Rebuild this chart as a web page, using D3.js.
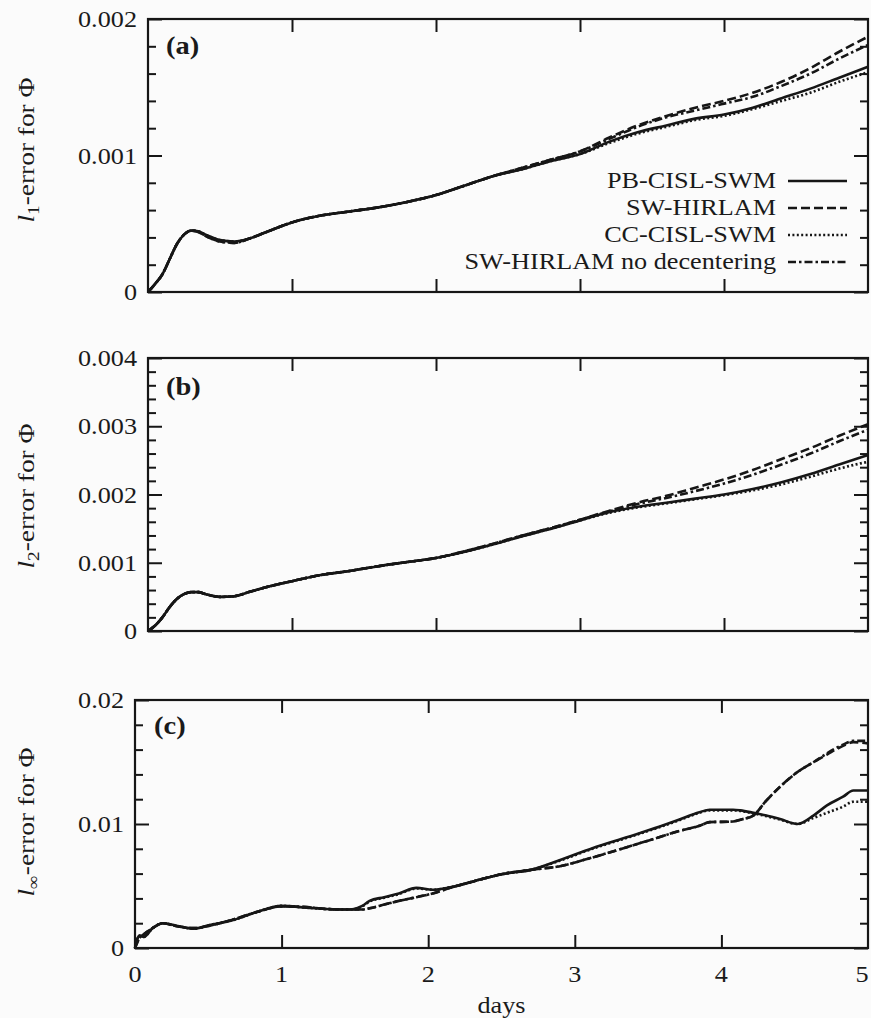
<!DOCTYPE html>
<html><head><meta charset="utf-8">
<script src="https://cdn.jsdelivr.net/npm/d3@7/dist/d3.min.js"></script>
<style>
html,body{margin:0;padding:0;background:#fbfbfb;}
svg{display:block;}
text{font-family:"Liberation Serif","Times New Roman","DejaVu Serif",serif;fill:#1a1a1a;}
</style></head><body>
<svg id="chart" width="871" height="1018"></svg>
<script>
// ---------- DATA ----------
const seriesNames = ["PB-CISL-SWM", "SW-HIRLAM", "CC-CISL-SWM", "SW-HIRLAM no decentering"];
const xTickValues = [0, 1, 2, 3, 4, 5];
const xTickLabels = ["0", "1", "2", "3", "4", "5"];
const xLabel = "days";

// panel (a): l1-error, values in units of 1e-3
const daysAB = [0,0.05,0.1,0.15,0.2,0.25,0.3,0.35,0.4,0.5,0.6,0.7,0.8,1.0,1.2,1.4,1.6,1.8,2.0,2.2,2.4,2.6,2.8,3.0,3.2,3.4,3.6,3.8,4.0,4.2,4.4,4.6,4.8,5.0];
const aPB   = [0,0.06,0.13,0.24,0.35,0.42,0.45,0.445,0.42,0.38,0.37,0.39,0.43,0.51,0.56,0.59,0.62,0.66,0.71,0.78,0.85,0.90,0.96,1.01,1.10,1.17,1.22,1.27,1.30,1.35,1.42,1.49,1.57,1.65];
const aSW   = [0,0.06,0.13,0.24,0.35,0.42,0.45,0.44,0.41,0.37,0.36,0.39,0.43,0.51,0.56,0.59,0.62,0.66,0.71,0.78,0.85,0.91,0.97,1.03,1.13,1.22,1.29,1.35,1.40,1.46,1.54,1.64,1.76,1.87];
const aCC   = [0,0.06,0.13,0.24,0.35,0.42,0.45,0.445,0.42,0.38,0.37,0.39,0.43,0.51,0.56,0.59,0.62,0.66,0.71,0.78,0.85,0.90,0.96,1.01,1.09,1.16,1.21,1.26,1.29,1.34,1.40,1.46,1.54,1.61];
const aSWnd = [0,0.06,0.13,0.24,0.35,0.42,0.45,0.44,0.41,0.37,0.36,0.39,0.43,0.51,0.56,0.59,0.62,0.66,0.71,0.78,0.85,0.91,0.97,1.03,1.12,1.21,1.28,1.33,1.38,1.43,1.51,1.60,1.71,1.81];

// panel (b): l2-error, values in units of 1e-3
const bPB   = [0,0.08,0.20,0.35,0.47,0.54,0.57,0.57,0.54,0.50,0.51,0.57,0.63,0.73,0.82,0.88,0.95,1.01,1.07,1.16,1.27,1.39,1.50,1.62,1.74,1.82,1.88,1.94,2.00,2.08,2.18,2.30,2.44,2.58];
const bSW   = [0,0.08,0.20,0.35,0.47,0.54,0.57,0.57,0.54,0.50,0.51,0.57,0.63,0.73,0.82,0.88,0.95,1.01,1.07,1.17,1.28,1.40,1.51,1.63,1.76,1.88,1.98,2.10,2.22,2.36,2.52,2.68,2.86,3.03];
const bCC   = [0,0.08,0.20,0.35,0.47,0.54,0.57,0.57,0.54,0.50,0.51,0.57,0.63,0.73,0.82,0.88,0.95,1.01,1.07,1.16,1.27,1.39,1.50,1.62,1.73,1.81,1.87,1.93,1.99,2.06,2.15,2.26,2.38,2.48];
const bSWnd = [0,0.08,0.20,0.35,0.47,0.54,0.57,0.57,0.54,0.50,0.51,0.57,0.63,0.73,0.82,0.88,0.95,1.01,1.07,1.17,1.28,1.40,1.51,1.63,1.75,1.86,1.95,2.05,2.16,2.29,2.44,2.60,2.78,2.95];

// panel (c): l-infinity error, values in units of 1e-3
const daysC = [0,0.03,0.06,0.12,0.19,0.29,0.4,0.51,0.67,0.83,1.0,1.17,1.3,1.46,1.55,1.6,1.7,1.8,1.92,2.03,2.15,2.38,2.5,2.7,2.9,3.12,3.36,3.58,3.7,3.85,3.92,4.08,4.13,4.22,4.3,4.4,4.52,4.63,4.72,4.83,4.9,5.0];
const cPB   = [0,1.0,0.9,1.6,2.0,1.78,1.55,1.85,2.25,2.9,3.4,3.25,3.15,3.1,3.4,3.8,4.1,4.4,4.85,4.7,4.9,5.6,5.95,6.3,7.1,8.05,8.95,9.8,10.3,10.95,11.15,11.15,11.1,10.9,10.7,10.4,10.0,10.7,11.5,12.2,12.7,12.7];
const cSW   = [0,0.8,1.1,1.6,2.0,1.75,1.6,1.8,2.3,2.9,3.35,3.3,3.15,3.1,3.1,3.2,3.5,3.8,4.1,4.4,4.85,5.6,5.95,6.3,6.6,7.3,8.15,8.95,9.4,9.85,10.15,10.2,10.35,10.7,11.8,13.0,14.2,15.0,15.6,16.3,16.6,16.5];
const cCC   = [0,1.0,0.9,1.6,2.0,1.78,1.55,1.85,2.25,2.9,3.4,3.25,3.15,3.1,3.35,3.75,4.05,4.35,4.8,4.7,4.9,5.6,5.95,6.3,7.05,8.0,8.9,9.75,10.25,10.9,11.1,11.1,11.05,10.85,10.65,10.35,10.0,10.5,10.9,11.4,11.8,11.8];
const cSWnd = [0,0.8,1.1,1.6,2.0,1.75,1.6,1.8,2.3,2.9,3.35,3.3,3.15,3.1,3.1,3.2,3.5,3.8,4.1,4.4,4.85,5.6,5.95,6.3,6.6,7.3,8.15,8.95,9.4,9.85,10.15,10.2,10.35,10.7,11.8,13.0,14.2,15.0,15.7,16.4,16.7,16.7];

// y axes (units 1e-3)
const aYMajor = [0, 1, 2],          aYLabels = ["0", "0.001", "0.002"],          aYMinorStep = 0.2;
const bYMajor = [0, 1, 2, 3, 4],    bYLabels = ["0", "0.001", "0.002", "0.003", "0.004"], bYMinorStep = 0.2;
const cYMajor = [0, 10, 20],        cYLabels = ["0", "0.01", "0.02"],             cYMinorStep = 2;

const panelLetters = ["(a)", "(b)", "(c)"];
const yLabelSubs = ["1", "2", "\u221E"];

// ---------- STYLE ----------
const FONT = "'Liberation Serif','Times New Roman','DejaVu Serif',serif";
const SX = 1.14;        // horizontal stretch of the lettering
const FS = 23;
const INK = "#161616";
const styles = [
  {dash: null},
  {dash: "9,4"},
  {dash: "2,2.4"},
  {dash: "8,3,2.5,3"}
];

const svg = d3.select("#chart");

function stext(g, x, y, str, anchor, size, weight) {
  return g.append("text")
    .attr("transform", `translate(${x},${y}) scale(${SX},1)`)
    .attr("text-anchor", anchor || "start")
    .attr("font-family", FONT)
    .attr("font-size", size || FS)
    .attr("font-weight", weight || "normal")
    .attr("fill", INK)
    .text(str);
}

const panels = [
  {box:{l:148, r:868, t:19, b:292}, days:daysAB, series:[aPB,aSW,aCC,aSWnd], ymax:2,  major:aYMajor, labels:aYLabels, minor:aYMinorStep, letterPos:[166,54], yLabCy:150},
  {box:{l:148, r:868, t:358, b:631}, days:daysAB, series:[bPB,bSW,bCC,bSWnd], ymax:4, major:bYMajor, labels:bYLabels, minor:bYMinorStep, letterPos:[166,395], yLabCy:496},
  {box:{l:135, r:868, t:700, b:948}, days:daysC, series:[cPB,cSW,cCC,cSWnd], ymax:20, major:cYMajor, labels:cYLabels, minor:cYMinorStep, letterPos:[154,734], yLabCy:822}
];

panels.forEach((p, pi) => {
  const g = svg.append("g");
  const x = d3.scaleLinear().domain([0, 5]).range([p.box.l, p.box.r]);
  const y = d3.scaleLinear().domain([0, p.ymax]).range([p.box.b, p.box.t]);

  // lines
  const order = [2, 3, 1, 0];
  order.forEach(si => {
    const data = p.days.map((d, i) => [d, p.series[si][i]]);
    const line = d3.line().x(d => x(d[0])).y(d => y(d[1])).curve(d3.curveMonotoneX);
    g.append("path").attr("d", line(data))
      .attr("fill", "none").attr("stroke", INK)
      .attr("stroke-width", 2.6)
      .attr("stroke-linejoin", "round")
      .attr("stroke-dasharray", styles[si].dash);
  });

  // axes: ticks inward on all four sides
  const minorVals = d3.range(0, p.ymax + 1e-9, p.minor).filter(v => !p.major.some(m => Math.abs(m - v) < 1e-9));
  const axL = d3.axisLeft(y).tickValues(minorVals).tickSize(-8).tickFormat("");
  const axLM = d3.axisLeft(y).tickValues(p.major).tickSize(-14).tickFormat("");
  const axR = d3.axisRight(y).tickValues(minorVals).tickSize(-8).tickFormat("");
  const axRM = d3.axisRight(y).tickValues(p.major).tickSize(-14).tickFormat("");
  const xIn = xTickValues.filter(v => v > 0 && v < 5);
  const axB = d3.axisBottom(x).tickValues(xIn).tickSize(-13).tickFormat("");
  const axT = d3.axisTop(x).tickValues(xIn).tickSize(-13).tickFormat("");
  [[axL, `translate(${p.box.l},0)`], [axLM, `translate(${p.box.l},0)`],
   [axR, `translate(${p.box.r},0)`], [axRM, `translate(${p.box.r},0)`],
   [axB, `translate(0,${p.box.b})`], [axT, `translate(0,${p.box.t})`]].forEach(([ax, tr]) => {
    const a = g.append("g").attr("transform", tr).call(ax);
    a.select(".domain").remove();
    a.selectAll(".tick line").attr("stroke", INK).attr("stroke-width", 2);
  });

  // frame
  g.append("rect").attr("x", p.box.l).attr("y", p.box.t)
    .attr("width", p.box.r - p.box.l).attr("height", p.box.b - p.box.t)
    .attr("fill", "none").attr("stroke", INK).attr("stroke-width", 2.2);

  // y tick labels
  p.major.forEach((v, i) => {
    stext(g, p.box.l - 11, y(v) + 8, p.labels[i], "end");
  });

  // panel letter
  stext(g, p.letterPos[0], p.letterPos[1], panelLetters[pi], "start", 25, "bold");

  // y label
  const yl = g.append("text")
    .attr("transform", `translate(34,${p.yLabCy}) rotate(-90) scale(${SX},1)`)
    .attr("text-anchor", "middle").attr("font-size", 24)
    .attr("font-family", FONT).attr("fill", INK);
  yl.append("tspan").attr("font-style", "italic").text("l");
  yl.append("tspan").attr("font-size", 17).attr("dy", 5).text(yLabelSubs[pi]);
  yl.append("tspan").attr("dy", -5).text("-error for \u03A6");

  // x tick labels on the last panel
  if (pi === 2) {
    xTickValues.forEach((v, i) => stext(g, Math.min(x(v), 862), 982, xTickLabels[i], "middle"));
    stext(g, (p.box.l + p.box.r) / 2, 1013, xLabel, "middle");
  }
});

// legend (in panel a)
const lg = svg.append("g");
const legBase = [188, 215, 242, 269];
seriesNames.forEach((name, i) => {
  stext(lg, 776, legBase[i], name, "end");
  lg.append("line").attr("x1", 788).attr("x2", 847)
    .attr("y1", legBase[i] - 7).attr("y2", legBase[i] - 7)
    .attr("stroke", INK).attr("stroke-width", 2.4)
    .attr("stroke-dasharray", styles[i].dash);
});
</script>
</body></html>
